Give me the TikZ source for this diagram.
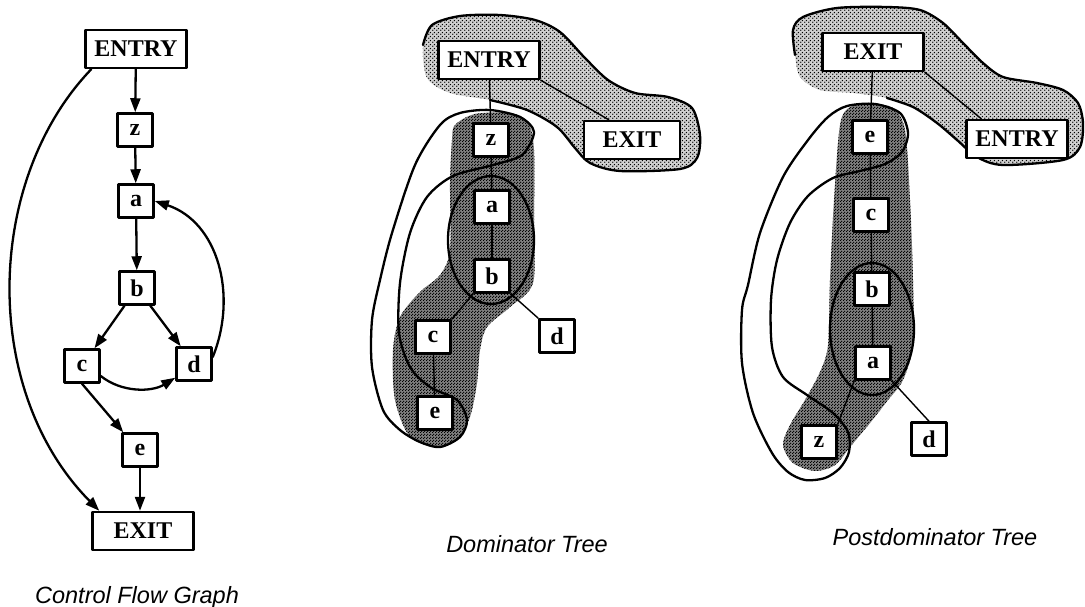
\documentclass[tikz,border=0pt]{standalone}
\usepackage{fontspec}
\setmainfont{Liberation Serif}
\setsansfont{Liberation Sans}
\usetikzlibrary{arrows.meta,patterns}

\pgfdeclarepatternformonly{sparsedots}{\pgfqpoint{0pt}{0pt}}{\pgfqpoint{4pt}{4pt}}{\pgfqpoint{4pt}{4pt}}{%
  \pgfpathcircle{\pgfqpoint{1pt}{1pt}}{.9pt}%
  \pgfpathcircle{\pgfqpoint{3pt}{3pt}}{.9pt}%
  \pgfusepath{fill}}
\pgfdeclarepatternformonly{densedots}{\pgfqpoint{0pt}{0pt}}{\pgfqpoint{3pt}{3pt}}{\pgfqpoint{3pt}{3pt}}{%
  \pgfpathcircle{\pgfqpoint{.75pt}{.75pt}}{.9pt}%
  \pgfpathcircle{\pgfqpoint{2.25pt}{2.25pt}}{.9pt}%
  \pgfusepath{fill}}

\begin{document}
\begin{tikzpicture}[x=1pt,y=-1pt,line join=round,line cap=round,
  vbox/.style={draw,line width=2.5pt,fill=white,inner sep=0pt,
               font=\bfseries\fontsize{24}{28}\selectfont,
               minimum width=35pt,minimum height=33pt},
  wbox/.style={vbox,minimum width=101pt,minimum height=38pt},
  flow/.style={line width=2.3pt,-{Triangle[length=14pt,width=10pt]}},
  treeedge/.style={line width=1.4pt},
  loopline/.style={line width=2.3pt},
  light/.style={preaction={fill=black!18},pattern=sparsedots},
  dark/.style={preaction={fill=black!50},pattern=densedots},
  caption/.style={font=\sffamily\itshape\fontsize{23.5}{28}\selectfont,anchor=base}]
\useasboundingbox (0,0) rectangle (1085,607);

% control flow graph
\node[wbox] (cfgentry) at (136,49) {ENTRY};
\foreach \lbl/\x/\y in {z/135/130,a/136/201,b/137/288,c/82/366,d/194/364,e/140/450}
  \node[vbox] (cfg\lbl) at (\x,\y) {\lbl};
\node[wbox] (cfgexit) at (143,531) {EXIT};
\draw[flow] (cfgentry) -- (cfgz);
\draw[flow] (cfgz) -- (cfga);
\draw[flow] (cfga) -- (cfgb);
\draw[flow] (cfgb) -- (cfgc);
\draw[flow] (cfgb) -- (cfgd);
\draw[flow] (cfgc.south) -- ([xshift=2pt]cfge.north west);
\draw[flow] (cfge) -- (cfge |- cfgexit.north);
\draw[flow] ([yshift=-10pt]cfgc.east) .. controls (122,393) and (152,392) .. ([yshift=4pt]cfgd.south west);
\draw[flow] ([yshift=7pt]cfgd.east) .. controls (238,295) and (218,222) .. (cfga.east);
\draw[flow] ([xshift=7pt]cfgentry.south west) .. controls (-15,180) and (-20,390) .. ([xshift=8pt]cfgexit.north west);
\node[caption] (cfgcap) at (137,603) {Control Flow Graph};

% dominator tree
\fill[light] plot[smooth cycle] coordinates {(490,100) (527,110) (557,127) (575,148) (590,163) (620,171)
  (680,169) (697,158) (700,135) (692,108) (668,97) (635,93) (608,80) (585,58) (560,32) (535,20)
  (500,15) (460,16) (432,25) (423,45) (427,78) (450,93)};
\draw[loopline] plot[smooth] coordinates {(490,100) (527,110) (557,127) (575,148) (590,163) (620,171)
  (680,169) (697,158) (700,135) (692,108) (668,97) (635,93) (608,80) (585,58) (560,32) (535,20)
  (500,15) (460,16) (432,25) (423,45)};
\fill[dark] plot[smooth cycle] coordinates {(455,125) (475,114) (510,113) (528,122) (534,150) (534,220)
  (533,283) (510,307) (487,327) (480,350) (477,383) (470,417) (457,440) (437,447) (410,437) (395,400)
  (393,350) (400,317) (420,292) (440,275) (450,250) (450,183) (452,140)};
\draw[loopline] plot[smooth cycle] coordinates {(460,113) (490,110) (520,117) (534,132) (522,155)
  (493,165) (453,176) (427,197) (410,233) (400,283) (399,333) (410,367) (430,387) (457,400) (467,420)
  (460,437) (440,447) (420,442) (400,430) (383,410) (372,367) (372,320) (380,280) (392,233) (415,165)
  (440,125)};
\draw[loopline] (491,240) ellipse [x radius=43pt,y radius=64pt];
\node[wbox] (domentry) at (489,60) {ENTRY};
\node[wbox,minimum width=96pt] (domexit) at (632,140) {EXIT};
\foreach \lbl/\x/\y in {z/491/140,a/492/207,b/492/276,c/433/337,d/557/336,e/435/413}
  \node[vbox] (dom\lbl) at (\x,\y) {\lbl};
\draw[treeedge] (domentry) -- (domz);
\draw[treeedge] (domentry.south east) -- ([xshift=26pt]domexit.north west);
\draw[treeedge] (domz) -- (doma);
\draw[treeedge] (doma) -- (domb);
\draw[treeedge] (domb.south west) -- (domc.north east);
\draw[treeedge] (domb.south east) -- (domd.north west);
\draw[treeedge] (domc) -- (dome);
\node[caption] (domcap) at (527,552) {Dominator Tree};

% postdominator tree
\fill[light] plot[smooth cycle] coordinates {(887,98) (913,107) (937,123) (957,140) (977,157) (1003,165)
  (1063,160) (1080,147) (1083,123) (1078,103) (1063,90) (1037,83) (1003,77) (983,63) (963,43) (943,23)
  (920,10) (887,7) (837,8) (803,17) (793,30) (795,55) (800,77) (820,90) (853,93)};
\draw[loopline] plot[smooth] coordinates {(887,98) (913,107) (937,123) (957,140) (977,157) (1003,165)
  (1063,160) (1080,147) (1083,123) (1078,103) (1063,90) (1037,83) (1003,77) (983,63) (963,43) (943,23)
  (920,10) (887,7) (837,8) (803,17) (793,30) (795,55)};
\fill[dark] plot[smooth cycle] coordinates {(850,107) (870,104) (893,108) (905,130) (910,200) (913,280)
  (913,345) (903,380) (888,400) (870,423) (850,447) (835,465) (815,471) (793,463) (783,445) (790,425)
  (805,400) (820,372) (828,345) (830,280) (834,200) (840,125)};
\draw[loopline] plot[smooth cycle] coordinates {(847,106) (875,104) (900,113) (908,133) (902,152)
  (885,164) (860,171) (833,178) (808,196) (790,223) (777,260) (771,300) (772,347) (783,377) (807,395)
  (833,413) (848,432) (849,452) (840,468) (825,478) (805,480) (788,472) (772,453) (753,413) (742,363)
  (742,310) (748,285) (760,233) (783,177) (808,140) (828,117)};
\draw[loopline] (872,329) ellipse [x radius=42pt,y radius=66pt];
\node[wbox] (pdtexit) at (873,52) {EXIT};
\node[wbox] (pdtentry) at (1017,139) {ENTRY};
\foreach \lbl/\x/\y in {e/870/137,c/871/215,b/872/289,a/873/363,z/819/442,d/929/439}
  \node[vbox] (pdt\lbl) at (\x,\y) {\lbl};
\draw[treeedge] (pdtexit) -- (pdte);
\draw[treeedge] (pdtexit.south east) -- ([xshift=16pt]pdtentry.north west);
\draw[treeedge] (pdte) -- (pdtc);
\draw[treeedge] (pdtc) -- (pdtb);
\draw[treeedge] (pdtb) -- (pdta);
\draw[treeedge] (pdta.south west) -- (pdtz.north east);
\draw[treeedge] (pdta.south east) -- (pdtd.north);
\node[caption] (pdtcap) at (935,545) {Postdominator Tree};
\end{tikzpicture}
\end{document}
